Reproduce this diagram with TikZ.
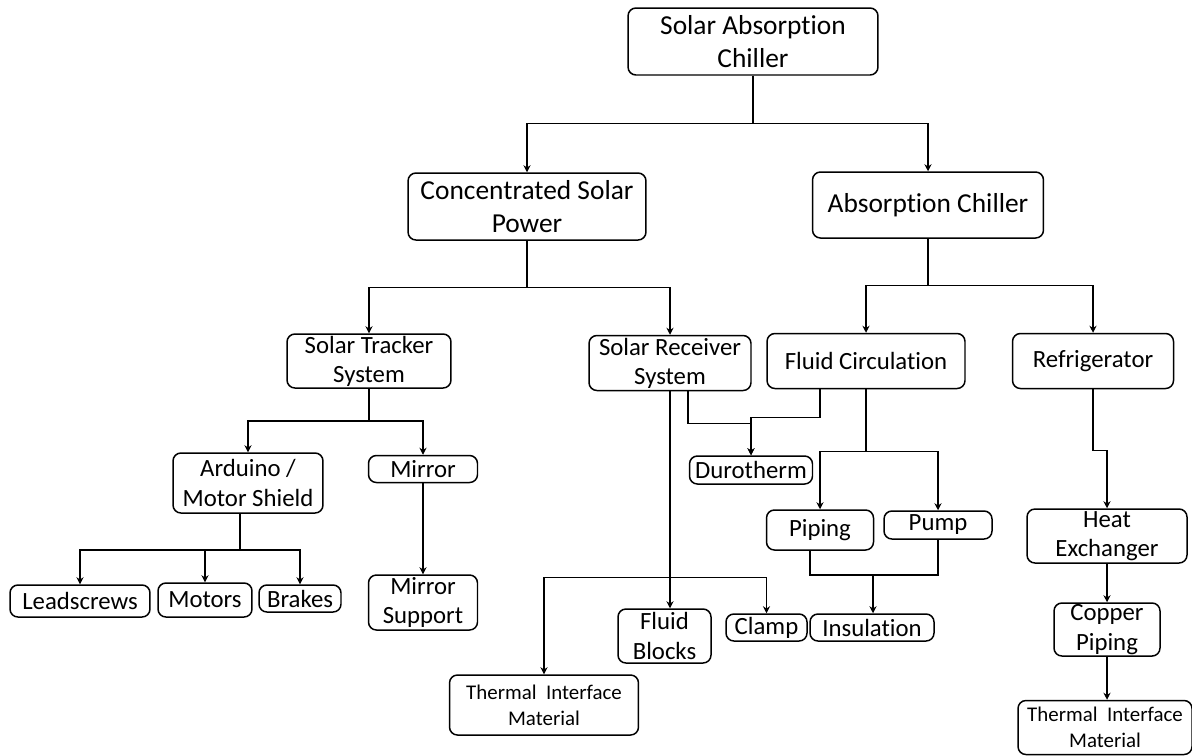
\documentclass[tikz,border=0pt]{standalone}
\usepackage{fontspec}
\setmainfont{Carlito}[Ligatures=NoCommon]
\usetikzlibrary{arrows.meta, calc}
\tikzstyle{box} = [draw, rounded corners=4.5pt, line width=0.85pt, align=center, inner sep=1pt]
\tikzstyle{arrow} = [line width=0.85pt,-{Stealth[length=4pt,width=4pt]}]
\tikzstyle{link} = [line width=0.85pt]
\tikzstyle{bigtext} = [font=\fontsize{15.6}{18.6}\selectfont]
\tikzstyle{smalltext} = [font=\fontsize{11.9}{14.8}\selectfont]

\begin{document}
\begin{tikzpicture}[x=0.02cm, y=-0.02cm, every node/.style={font=\fontsize{14.1}{16.6}\selectfont}]
  \useasboundingbox (0,0) rectangle (1192,755);

  % Top levels
  \node[box, bigtext, minimum width=5cm, minimum height=1.34cm] (sac) at (753,41.5) {Solar Absorption\\Chiller};
  \node[box, bigtext, minimum width=4.76cm, minimum height=1.34cm] (csp) at (527,206.5) {Concentrated Solar\\Power};
  \node[box, bigtext, minimum width=4.62cm, minimum height=1.32cm] (ac) at (928,205) {Absorption Chiller};

  % Subsystems
  \node[box, minimum width=3.28cm, minimum height=1.08cm] (sts) at (369,361) {Solar Tracker\\System};
  \node[box, minimum width=3.24cm, minimum height=1.1cm] (srs) at (670,363) {Solar Receiver\\System};
  \node[box, minimum width=3.96cm, minimum height=1.1cm] (fc) at (866,361) {Fluid Circulation};
  \node[box, minimum width=3.22cm, minimum height=1.1cm] (refr) at (1093,361) {Refrigerator};

  % Components
  \node[box, minimum width=3cm, minimum height=1.2cm] (ard) at (248,483) {Arduino /\\Motor Shield};
  \node[box, minimum width=2.18cm, minimum height=0.54cm] (mirror) at (423,469) {Mirror};
  \node[box, minimum width=2.46cm, minimum height=0.56cm] (duro) at (751,470) {Durotherm};
  \node[box, minimum width=2.14cm, minimum height=0.8cm] (piping) at (820,530) {Piping};
  \node[box, minimum width=2.16cm, minimum height=0.56cm] (pump) at (938,525) {Pump};
  \node[box, minimum width=3.2cm, minimum height=1.08cm] (hx) at (1107,536) {Heat\\Exchanger};

  % Parts
  \node[box, minimum width=2.8cm, minimum height=0.64cm] (lead) at (80,601) {Leadscrews};
  \node[box, minimum width=1.88cm, minimum height=0.68cm] (motors) at (205,600) {Motors};
  \node[box, minimum width=1.64cm, minimum height=0.54cm] (brakes) at (300,598.5) {Brakes};
  \node[box, minimum width=2.18cm, minimum height=1.1cm] (msup) at (423,602.5) {Mirror\\Support};
  \node[box, minimum width=1.86cm, minimum height=1.08cm] (fblocks) at (664.5,636) {Fluid\\Blocks};
  \node[box, minimum width=1.62cm, minimum height=0.54cm] (clamp) at (766.5,627.5) {Clamp};
  \node[box, minimum width=2.48cm, minimum height=0.54cm] (insul) at (872,627.5) {Insulation};
  \node[box, smalltext, minimum width=3.78cm, minimum height=1.2cm] (timl) at (544,705) {Thermal~~Interface\\Material};
  \node[box, minimum width=2.12cm, minimum height=1.06cm] (copper) at (1107,629.5) {Copper\\Piping};
  \node[box, smalltext, minimum width=3.48cm, minimum height=1.08cm] (timr) at (1105,727.5) {Thermal~~Interface\\Material};

  % Top connections
  \draw[arrow] (sac.south) -- ++(0,48) -| (csp.north);
  \draw[arrow] (sac.south) -- ++(0,48) -| (ac.north);
  \draw[arrow] (csp.south) -- ++(0,47) -| (sts.north);
  \draw[arrow] (csp.south) -- ++(0,47) -| (srs.north);
  \draw[arrow] (ac.south) -- ++(0,47) -| (fc.north);
  \draw[arrow] (ac.south) -- ++(0,47) -| (refr.north);

  % Tracker connections
  \draw[arrow] (sts.south) -- ++(0,32) -| (ard.north);
  \draw[arrow] (sts.south) -- ++(0,32) -| (mirror.north);
  \draw[arrow] (mirror.south) -- (msup.north);
  \draw[arrow] ($(ard.south)+(-8,0)$) -- ++(0,36) -| (lead.north);
  \draw[arrow] ($(ard.south)+(-8,0)$) -- ++(0,36) -| (motors.north);
  \draw[arrow] ($(ard.south)+(-8,0)$) -- ++(0,36) -| (brakes.north);

  % Receiver connections
  \draw[arrow] (srs.south) -- (srs.south |- fblocks.north);
  \draw[arrow] (srs.south) -- ++(0,186) -| (timl.north);
  \draw[arrow] (srs.south) -- ++(0,186) -| (clamp.north);
  \draw[arrow] ($(srs.south)+(18,0)$) -- ++(0,32) -| (duro.north);

  % Circulation connections
  \draw[arrow] ($(fc.south)+(-46,0)$) -- ++(0,28) -| (duro.north);
  \draw[arrow] (fc.south) -- ++(0,62) -| (piping.north);
  \draw[arrow] (fc.south) -- ++(0,62) -| (pump.north);
  \draw[link] ($(piping.south)+(-10,0)$) -- ++(0,24) -| (pump.south);
  \coordinate (pjoin) at (873,574);
  \draw[arrow] (pjoin) -- (pjoin |- insul.north);

  % Refrigerator connections
  \draw[arrow] (refr.south) -- ++(0,61) -| (hx.north);
  \draw[arrow] (hx.south) -- (copper.north);
  \draw[arrow] (copper.south) -- (copper.south |- timr.north);
\end{tikzpicture}
\end{document}
